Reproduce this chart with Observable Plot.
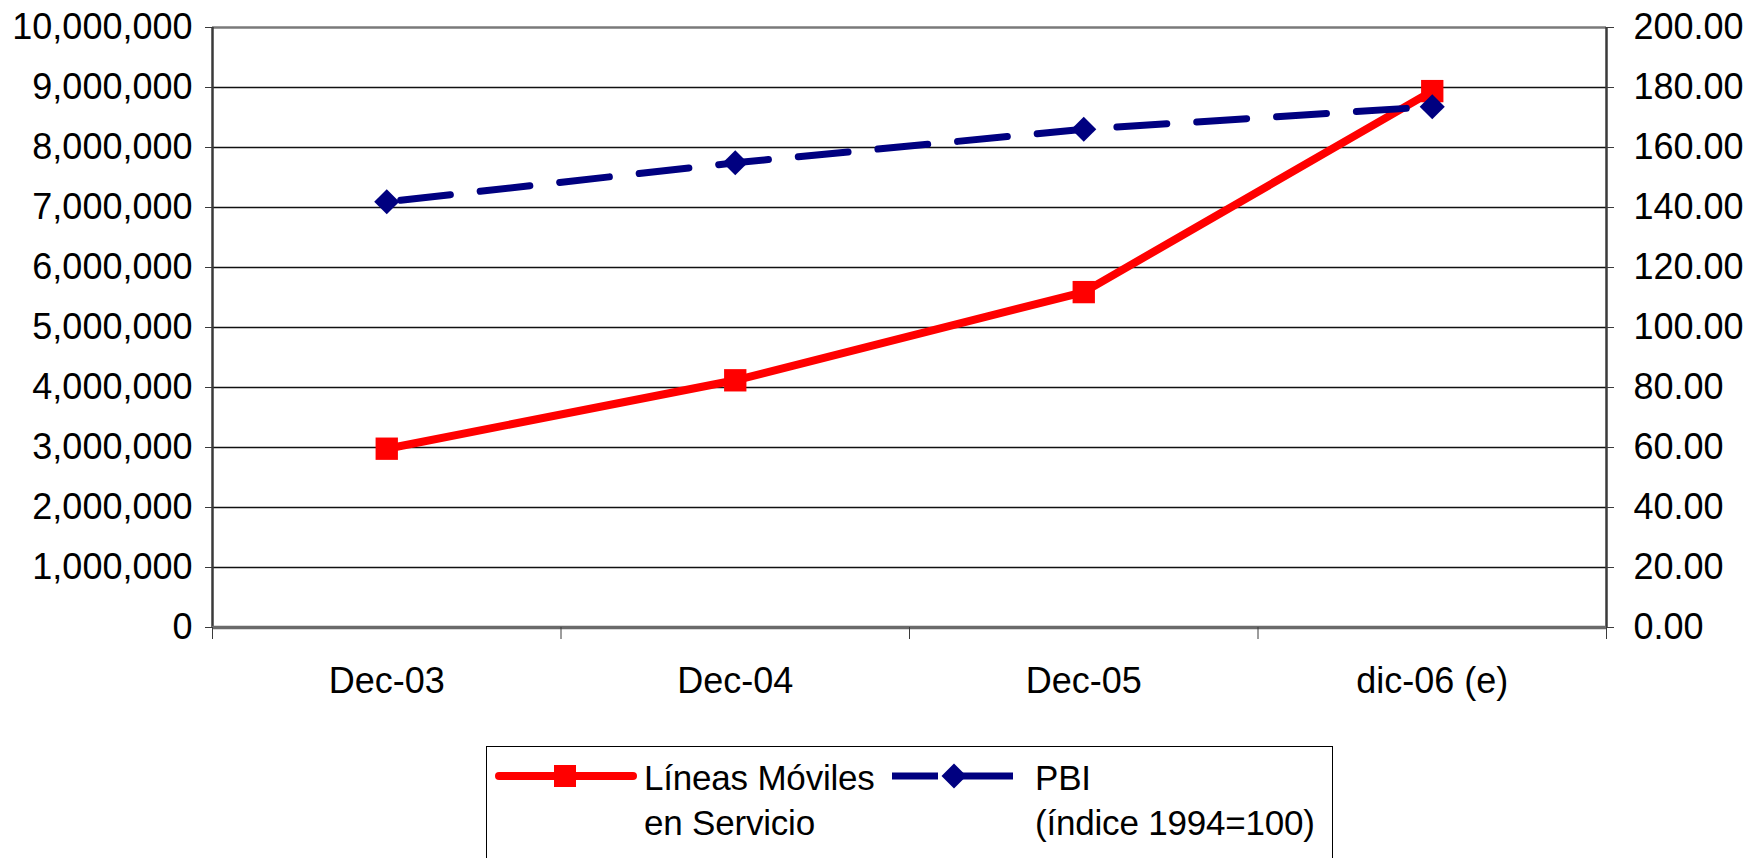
<!DOCTYPE html>
<html><head><meta charset="utf-8">
<script src="https://cdn.jsdelivr.net/npm/d3@7"></script>
<script src="https://cdn.jsdelivr.net/npm/@observablehq/plot@0.6"></script>
<style>
body{margin:0;background:#fff;font-family:"Liberation Sans",Arial,sans-serif;}
#chart{position:relative;width:1754px;height:858px;overflow:hidden;background:#fff}
#legend{position:absolute;left:486px;top:746px;width:847px;height:220px;border:1.6px solid #000;box-sizing:border-box;background:#fff}
#legend .txt{position:absolute;font-size:35px;line-height:45px;color:#000;white-space:nowrap;letter-spacing:-0.2px}
#legend svg{position:absolute;left:0;top:0}
</style></head><body><div id="chart"></div>
<script>
const categories = ["Dec-03", "Dec-04", "Dec-05", "dic-06 (e)"];
const lineas = [2980000, 4120000, 5590000, 8940000];
const pbi = [141.9, 154.9, 166.1, 173.6];
const leftTicks = [0, 1000000, 2000000, 3000000, 4000000, 5000000, 6000000, 7000000, 8000000, 9000000, 10000000];
const rightTicks = [0, 20, 40, 60, 80, 100, 120, 140, 160, 180, 200];
const seriesNames = [["Líneas Móviles", "en Servicio"], ["PBI", "(índice 1994=100)"]];
const seriesColors = ["#ff0000", "#000080"];

const k = leftTicks[leftTicks.length - 1] / rightTicks[rightTicks.length - 1];
const idx = categories.map((c, i) => i);
const boundaries = d3.range(-0.5, categories.length, 1);
const yMax = leftTicks[leftTicks.length - 1];

const plot = Plot.plot({
  width: 1754, height: 730,
  marginLeft: 212, marginRight: 148, marginTop: 27, marginBottom: 103,
  style: {fontFamily: "'Liberation Sans', Arial, sans-serif", fontSize: "36px", color: "#000", background: "white", overflow: "visible"},
  x: {type: "linear", domain: [-0.5, categories.length - 0.5]},
  y: {domain: [0, yMax]},
  marks: [
    Plot.ruleY(leftTicks.filter(v => v > 0 && v < yMax), {stroke: "#111", strokeWidth: 1.4}),
    Plot.ruleY([yMax], {stroke: "#7a7a7a", strokeWidth: 2.5}),
    Plot.ruleX([boundaries[0]], {stroke: "#3a3a3a", strokeWidth: 2.5}),
    Plot.ruleX([boundaries[boundaries.length - 1]], {stroke: "#3a3a3a", strokeWidth: 2.5}),
    Plot.ruleY([0], {stroke: "#6a6a6a", strokeWidth: 3.5}),
    Plot.axisY({ticks: leftTicks, tickFormat: d3.format(","), tickSize: 7, tickPadding: 13, label: null, stroke: "#3a3a3a"}),
    Plot.axisY({anchor: "right", ticks: rightTicks.map(v => v * k), tickFormat: d => (d / k).toFixed(2), tickSize: 7, tickPadding: 20, label: null, stroke: "#3a3a3a"}),
    Plot.axisX({ticks: idx, tickFormat: i => categories[i], tickSize: 0, tickPadding: 40, label: null}),
    Plot.axisX({ticks: boundaries, tickFormat: () => "", tickSize: 12, label: null, stroke: "#3a3a3a"}),
    Plot.line(idx, {x: i => i, y: i => lineas[i], stroke: seriesColors[0], strokeWidth: 8}),
    Plot.dot(idx, {x: i => i, y: i => lineas[i], symbol: "square", r: 12.6, fill: seriesColors[0], stroke: "none"}),
    Plot.line(idx, {x: i => i, y: i => pbi[i] * k, stroke: seriesColors[1], strokeWidth: 7, strokeDasharray: "50,30", strokeDashoffset: -14}),
    Plot.dot(idx, {x: i => i, y: i => pbi[i] * k, symbol: "diamond2", r: 11.3, fill: seriesColors[1], stroke: "none"})
  ]
});
const chart = document.getElementById("chart");
chart.appendChild(plot);

// Legend
const legend = document.createElement("div");
legend.id = "legend";
legend.innerHTML = `
<svg width="847" height="70">
  <line x1="12" x2="146" y1="29" y2="29" stroke="${seriesColors[0]}" stroke-width="8" stroke-linecap="round"/>
  <rect x="67" y="18" width="22" height="22" fill="${seriesColors[0]}"/>
  <line x1="405" x2="451" y1="29" y2="29" stroke="${seriesColors[1]}" stroke-width="7"/>
  <line x1="467" x2="526" y1="29" y2="29" stroke="${seriesColors[1]}" stroke-width="7"/>
  <path d="M467,16.5 L479.5,29 L467,41.5 L454.5,29 Z" fill="${seriesColors[1]}"/>
</svg>
<div class="txt" style="left:157px;top:8px">${seriesNames[0][0]}<br>${seriesNames[0][1]}</div>
<div class="txt" style="left:548px;top:8px">${seriesNames[1][0]}<br>${seriesNames[1][1]}</div>`;
chart.appendChild(legend);
</script>
</body></html>
